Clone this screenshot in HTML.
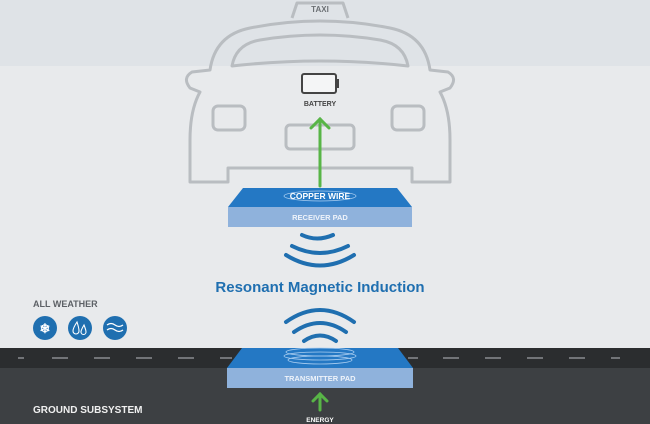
<!DOCTYPE html>
<html><head><meta charset="utf-8"><style>
html,body{margin:0;padding:0;width:650px;height:424px;overflow:hidden;background:#e7e9eb}
svg{display:block}
text{font-family:"Liberation Sans",sans-serif;font-weight:bold}
</style></head><body>
<svg width="650" height="424" viewBox="0 0 650 424" xmlns="http://www.w3.org/2000/svg">
<rect x="0" y="0" width="650" height="66" fill="#dfe3e7"/>
<rect x="0" y="66" width="650" height="282" fill="#e8eaec"/>
<rect x="0" y="348" width="650" height="20" fill="#2b2d2f"/>
<rect x="0" y="368" width="650" height="56" fill="#3d4043"/>
<g stroke="#8a8d90" stroke-width="1.5">
<line x1="18" y1="358" x2="24" y2="358"/><line x1="52" y1="358" x2="68" y2="358"/><line x1="94" y1="358" x2="110" y2="358"/><line x1="136" y1="358" x2="152" y2="358"/><line x1="178" y1="358" x2="194" y2="358"/><line x1="220" y1="358" x2="232" y2="358"/>
<line x1="408" y1="358" x2="418" y2="358"/><line x1="443" y1="358" x2="459" y2="358"/><line x1="485" y1="358" x2="501" y2="358"/><line x1="527" y1="358" x2="543" y2="358"/><line x1="569" y1="358" x2="585" y2="358"/><line x1="611" y1="358" x2="620" y2="358"/>
</g>
<g fill="none" stroke="#b9bdc1" stroke-width="3" stroke-linejoin="round">
<path d="M292 18 L297 3 L343 3 L348 18"/>
<path d="M210 70 Q215 35 250 28 Q320 14 390 28 Q425 35 430 70 L448 72 Q458 78 450 88 L440 92 Q450 110 450 140 L450 182 L412 182 L412 168 L228 168 L228 182 L190 182 L190 140 Q190 110 200 92 L190 88 Q182 78 192 72 Z"/>
<path d="M232 66 Q236 44 260 40 Q320 30 380 40 Q404 44 408 66 Q320 56 232 66 Z"/>
<rect x="213" y="106" width="32" height="24" rx="5"/>
<rect x="392" y="106" width="32" height="24" rx="5"/>
<rect x="286" y="125" width="68" height="24" rx="4"/>
</g>
<text x="320" y="12" font-size="8" fill="#6c7074" text-anchor="middle" font-weight="normal">TAXI</text>
<rect x="302" y="74" width="34" height="19" rx="2" fill="#f4f5f6" stroke="#444" stroke-width="2"/>
<rect x="336" y="79" width="3" height="9" fill="#444"/>
<text x="320" y="106" font-size="7" fill="#444" text-anchor="middle">BATTERY</text>
<g stroke="#58b547" stroke-width="3" fill="none" stroke-linecap="round">
<line x1="320" y1="186" x2="320" y2="119"/><polyline points="311,128 320,119 329,128"/>
<line x1="320" y1="410" x2="320" y2="394"/><polyline points="313,401 320,394 327,401"/>
</g>
<polygon points="243,188 397,188 412,207 228,207" fill="#2478c4"/>
<rect x="228" y="207" width="184" height="20" fill="#8fb2dc"/>
<ellipse cx="320" cy="196" rx="36" ry="5" fill="none" stroke="#a9cdf0" stroke-width="0.8"/>
<text x="320" y="199" font-size="8.5" fill="#fff" text-anchor="middle" font-weight="normal">COPPER WIRE</text>
<text x="320" y="220" font-size="7.5" fill="#eef3fa" text-anchor="middle" font-weight="normal">RECEIVER PAD</text>
<g fill="none" stroke="#1f6fb0" stroke-width="4" stroke-linecap="round">
<path d="M302 235 Q317 242 333 235"/>
<path d="M292 246 Q320 260 348 246"/>
<path d="M286 255 Q320 276 354 255"/>
<path d="M286 322 Q320 298 354 322"/>
<path d="M294 332 Q320 314 346 332"/>
<path d="M304 341 Q320 330 336 341"/>
</g>
<text x="320" y="292" font-size="15" fill="#1f6fb0" text-anchor="middle">Resonant Magnetic Induction</text>
<polygon points="242,348 398,348 413,368 227,368" fill="#2478c4"/>
<rect x="227" y="368" width="186" height="20" fill="#8fb2dc"/>
<g fill="none" stroke="#a9cdf0" stroke-width="0.8">
<ellipse cx="320" cy="352" rx="34" ry="4"/><ellipse cx="320" cy="356" rx="36" ry="4"/><ellipse cx="320" cy="360" rx="32" ry="4"/>
</g>
<text x="320" y="381" font-size="7.5" fill="#eef3fa" text-anchor="middle" font-weight="normal">TRANSMITTER PAD</text>
<text x="320" y="422" font-size="6.5" fill="#fff" text-anchor="middle">ENERGY</text>
<text x="33" y="307" font-size="9" fill="#5d6166">ALL WEATHER</text>
<circle cx="45" cy="328" r="12" fill="#1f6fb0"/>
<circle cx="80" cy="328" r="12" fill="#1f6fb0"/>
<circle cx="115" cy="328" r="12" fill="#1f6fb0"/>
<text x="45" y="333" font-size="13" fill="#fff" text-anchor="middle" font-weight="normal">❄</text>
<g fill="none" stroke="#fff" stroke-width="1.1">
<path d="M77 322 q-4 6 -4 9 a3 3 0 0 0 6 0 q0 -3 -2 -9z"/>
<path d="M84 325 q-3 5 -3 7 a2.5 2.5 0 0 0 5 0 q0 -2 -2 -7z"/>
</g>
<g fill="none" stroke="#fff" stroke-width="1.3"><path d="M107 325 q4 -3 8 0 t8 0"/><path d="M107 330 q4 -3 8 0 t8 0"/></g>
<text x="33" y="413" font-size="10" fill="#f0f0f0">GROUND SUBSYSTEM</text>
</svg>
</body></html>
